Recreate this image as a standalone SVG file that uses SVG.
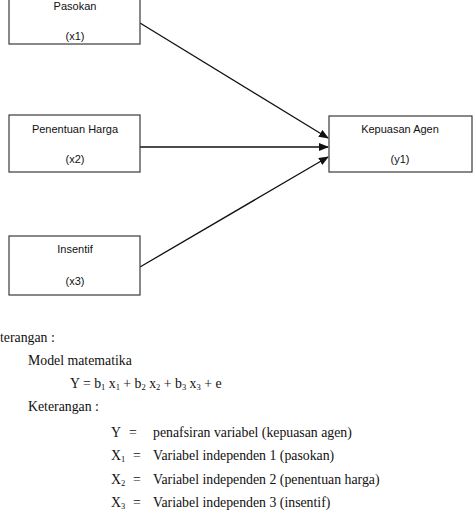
<svg xmlns="http://www.w3.org/2000/svg" width="474" height="522" viewBox="0 0 474 522">
<style>
.box{fill:#fff;stroke:#3a3a3a;stroke-width:1.2}
.bt{font-family:"Liberation Sans",Arial,sans-serif;font-size:11px;fill:#111;text-anchor:middle}
.conn{stroke:#111;stroke-width:1.3;fill:none}
.t{font-family:"Liberation Serif","Times New Roman",serif;font-size:13.8px;fill:#111}
.s{font-size:8.5px}
</style>
<defs>
<marker id="ah" markerWidth="10" markerHeight="8" refX="9" refY="4" orient="auto" markerUnits="userSpaceOnUse">
<path d="M0,0 L10,4 L0,8 Z" fill="#111"/>
</marker>
</defs>
<rect width="474" height="522" fill="#fff"/>
<g id="connectors">
<line class="conn" x1="140" y1="23" x2="328" y2="138" marker-end="url(#ah)"/>
<line class="conn" x1="140" y1="147" x2="328" y2="147" marker-end="url(#ah)"/>
<line class="conn" x1="140" y1="267" x2="328" y2="157" marker-end="url(#ah)"/>
</g>
<g id="pasokan">
<rect class="box" x="9" y="-8" width="131" height="52"/>
<text class="bt" x="75" y="10">Pasokan</text>
<text class="bt" x="75" y="40">(x1)</text>
</g>
<g id="penentuan-harga">
<rect class="box" x="9" y="115" width="131" height="57"/>
<text class="bt" x="75" y="133">Penentuan Harga</text>
<text class="bt" x="75" y="163">(x2)</text>
</g>
<g id="insentif">
<rect class="box" x="9" y="236" width="131" height="59"/>
<text class="bt" x="75" y="253">Insentif</text>
<text class="bt" x="75" y="285">(x3)</text>
</g>
<g id="kepuasan-agen">
<rect class="box" x="329" y="116" width="143" height="56"/>
<text class="bt" x="400" y="133">Kepuasan Agen</text>
<text class="bt" x="400" y="163">(y1)</text>
</g>
<g id="keterangan">
<text class="t" x="0" y="342">terangan :</text>
<text class="t" x="28" y="365">Model matematika</text>
<text class="t" x="70" y="388">Y = b<tspan class="s" dy="2">1</tspan><tspan dy="-2"> x</tspan><tspan class="s" dy="2">1</tspan><tspan dy="-2"> + b</tspan><tspan class="s" dy="2">2</tspan><tspan dy="-2"> x</tspan><tspan class="s" dy="2">2</tspan><tspan dy="-2"> + b</tspan><tspan class="s" dy="2">3</tspan><tspan dy="-2"> x</tspan><tspan class="s" dy="2">3</tspan><tspan dy="-2"> + e</tspan></text>
<text class="t" x="28" y="411">Keterangan :</text>
<text class="t" x="111" y="437">Y</text>
<text class="t" x="129" y="437">=</text>
<text class="t" x="153" y="437">penafsiran variabel (kepuasan agen)</text>
<text class="t" x="111" y="460">X<tspan class="s" dy="2">1</tspan></text>
<text class="t" x="133" y="460">=</text>
<text class="t" x="153" y="460">Variabel independen 1 (pasokan)</text>
<text class="t" x="111" y="484">X<tspan class="s" dy="2">2</tspan></text>
<text class="t" x="133" y="484">=</text>
<text class="t" x="153" y="484">Variabel independen 2 (penentuan harga)</text>
<text class="t" x="111" y="507">X<tspan class="s" dy="2">3</tspan></text>
<text class="t" x="133" y="507">=</text>
<text class="t" x="153" y="507">Variabel independen 3 (insentif)</text>
</g>
</svg>
